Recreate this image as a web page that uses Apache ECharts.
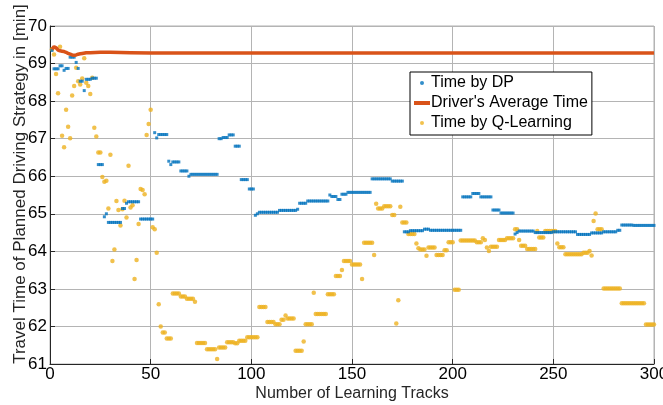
<!DOCTYPE html>
<html>
<head>
<meta charset="utf-8">
<script src="https://cdn.jsdelivr.net/npm/echarts@6/dist/echarts.min.js"></script>
<style>
html,body{margin:0;padding:0;background:#fff;}
#chart{width:663px;height:405px;}
</style>
</head>
<body>
<div id="chart"></div>
<script>
// Track numbers 1..300
const seriesNames = ["Time by DP", "Driver's Average Time", "Time by Q-Learning"];
const xTicks = [0, 50, 100, 150, 200, 250, 300];
const yTicks = [61, 62, 63, 64, 65, 66, 67, 68, 69, 70];

const dpTime = [
  69.35, 68.86, 68.86, 68.86, 68.94, 68.94, 68.82, 68.87, 68.87, 69.17,
  69.17, 69.17, 69.03, 68.87, 68.53, 68.53, 68.28, 68.58, 68.58, 68.58,
  68.61, 68.61, 68.61, 66.31, 66.31, 66.31, 64.92, 65.00, 64.77, 64.77,
  64.77, 64.77, 64.77, 64.77, 64.77, 65.14, 65.14, 65.28, 65.32, 65.32,
  65.32, 65.32, 65.32, 65.32, 64.86, 64.86, 64.86, 64.86, 64.86, 64.86,
  64.86, 67.16, 67.02, 67.11, 67.11, 67.11, 67.11, 67.11, 66.40, 66.31,
  66.38, 66.38, 66.38, 66.38, 66.14, 66.14, 66.14, 66.14, 66.00, 66.05,
  66.05, 66.05, 66.05, 66.05, 66.05, 66.05, 66.05, 66.05, 66.05, 66.05,
  66.05, 66.05, 66.05, 67.00, 67.00, 67.03, 67.03, 67.03, 67.10, 67.10,
  67.10, 66.80, 66.80, 66.80, 65.91, 65.91, 65.91, 65.91, 65.66, 65.66,
  65.66, 64.96, 65.00, 65.04, 65.04, 65.04, 65.04, 65.04, 65.04, 65.04,
  65.04, 65.04, 65.04, 65.09, 65.09, 65.09, 65.09, 65.09, 65.09, 65.09,
  65.09, 65.09, 65.12, 65.28, 65.28, 65.28, 65.28, 65.34, 65.34, 65.34,
  65.34, 65.34, 65.34, 65.34, 65.34, 65.34, 65.34, 65.34, 65.50, 65.46,
  65.46, 65.46, 65.38, 65.38, 65.52, 65.52, 65.52, 65.57, 65.57, 65.57,
  65.57, 65.57, 65.57, 65.57, 65.57, 65.57, 65.57, 65.57, 65.57, 65.93,
  65.93, 65.93, 65.93, 65.93, 65.93, 65.93, 65.93, 65.93, 65.93, 65.87,
  65.87, 65.87, 65.87, 65.87, 65.87, 64.52, 64.52, 64.52, 64.55, 64.55,
  64.55, 64.55, 64.55, 64.55, 64.55, 64.59, 64.59, 64.59, 64.56, 64.56,
  64.56, 64.56, 64.56, 64.56, 64.56, 64.56, 64.56, 64.56, 64.56, 64.56,
  64.56, 64.56, 64.56, 64.56, 65.45, 65.45, 65.45, 65.45, 65.45, 65.54,
  65.54, 65.54, 65.54, 65.45, 65.45, 65.45, 65.45, 65.45, 65.45, 65.10,
  65.10, 65.10, 65.10, 65.02, 65.02, 65.02, 65.02, 65.02, 65.02, 65.02,
  64.46, 64.50, 64.54, 64.54, 64.54, 64.54, 64.54, 64.54, 64.54, 64.54,
  64.50, 64.50, 64.50, 64.50, 64.50, 64.50, 64.50, 64.50, 64.50, 64.52,
  64.52, 64.52, 64.52, 64.52, 64.52, 64.52, 64.52, 64.52, 64.52, 64.52,
  64.52, 64.45, 64.45, 64.45, 64.45, 64.45, 64.45, 64.45, 64.49, 64.49,
  64.49, 64.49, 64.49, 64.49, 64.52, 64.52, 64.52, 64.52, 64.52, 64.52,
  64.52, 64.56, 64.56, 64.70, 64.70, 64.70, 64.70, 64.70, 64.70, 64.69,
  64.69, 64.69, 64.69, 64.69, 64.69, 64.69, 64.69, 64.69, 64.69, 64.69
];

const qlTime = [
  69.38, 69.24, 68.72, 68.21, 69.45, 67.08, 66.77, 67.77, 67.32, 67.01,
  68.15, 68.40, 68.89, 68.53, 68.44, 68.60, 69.14, 68.49, 68.40, 68.19,
  68.62, 67.29, 67.06, 66.63, 66.63, 65.98, 65.85, 65.88, 65.14, 66.57,
  63.74, 64.05, 65.34, 65.10, 64.69, 65.12, 65.35, 64.90, 66.28, 65.17,
  65.23, 63.26, 63.77, 64.73, 65.66, 65.63, 65.52, 67.10, 67.39, 67.77,
  64.64, 64.59, 63.96, 62.59, 62.00, 61.84, 61.84, 61.68, 61.68, 61.68,
  62.88, 62.88, 62.88, 62.88, 62.80, 62.80, 62.80, 62.74, 62.74, 62.74,
  62.74, 62.66, 61.56, 61.56, 61.56, 61.56, 61.56, 61.39, 61.39, 61.39,
  61.39, 61.39, 61.13, 61.44, 61.44, 61.44, 61.44, 61.58, 61.58, 61.58,
  61.58, 61.55, 61.55, 61.62, 61.62, 61.62, 61.62, 61.71, 61.71, 61.71,
  61.71, 61.71, 61.71, 62.52, 62.52, 62.52, 62.52, 62.12, 62.12, 62.12,
  62.12, 62.06, 62.06, 62.06, 62.18, 62.18, 62.29, 62.21, 62.21, 62.21,
  62.21, 61.35, 61.35, 61.35, 61.35, 61.60, 62.06, 62.06, 62.06, 62.06,
  62.90, 62.33, 62.33, 62.33, 62.33, 62.33, 62.33, 62.86, 62.86, 62.86,
  62.86, 63.34, 63.34, 63.34, 63.50, 63.74, 63.74, 63.74, 63.74, 63.65,
  63.65, 63.65, 63.65, 63.65, 63.26, 64.23, 64.23, 64.23, 64.23, 64.23,
  63.90, 65.27, 65.14, 65.14, 65.14, 65.20, 65.20, 65.20, 65.20, 64.97,
  64.97, 62.08, 62.70, 65.19, 64.77, 64.77, 64.77, 64.46, 64.46, 64.46,
  64.46, 64.21, 64.08, 64.05, 64.05, 64.05, 63.88, 64.10, 64.10, 64.10,
  64.10, 63.90, 63.90, 63.90, 63.90, 64.03, 64.03, 64.24, 64.24, 64.24,
  62.98, 62.98, 62.98, 64.29, 64.29, 64.29, 64.29, 64.29, 64.29, 64.29,
  64.29, 64.24, 64.24, 64.24, 64.35, 64.30, 64.10, 64.01, 64.12, 64.12,
  64.12, 64.12, 64.30, 64.30, 64.30, 64.30, 64.35, 64.35, 64.35, 64.35,
  64.59, 64.59, 64.30, 64.15, 64.15, 64.15, 64.06, 64.06, 64.06, 64.06,
  64.06, 64.54, 64.37, 64.37, 64.37, 64.54, 64.54, 64.54, 64.54, 64.54,
  64.54, 64.21, 64.11, 64.11, 64.11, 63.92, 63.92, 63.92, 63.92, 63.92,
  63.92, 63.92, 63.92, 63.92, 63.96, 63.96, 63.96, 64.01, 63.89, 64.81,
  65.01, 64.59, 64.59, 64.59, 63.01, 63.01, 63.01, 63.01, 63.01, 63.01,
  63.01, 63.01, 63.01, 62.62, 62.62, 62.62, 62.62, 62.62, 62.62, 62.62,
  62.62, 62.62, 62.62, 62.62, 62.62, 62.05, 62.05, 62.05, 62.05, 62.05
];

const driverX = [1, 2, 3, 4, 5, 6, 7, 8, 9, 10, 11, 12, 13, 14, 15, 16, 18, 20, 25, 30, 40, 50, 60, 70, 80, 90, 100, 120, 140, 160, 180, 200, 220, 240, 260, 280, 300];
const driverY = [69.38, 69.45, 69.42, 69.36, 69.34, 69.33, 69.32, 69.30, 69.27, 69.25, 69.23, 69.22, 69.23, 69.25, 69.26, 69.27, 69.29, 69.29, 69.30, 69.30, 69.29, 69.28, 69.28, 69.28, 69.28, 69.28, 69.28, 69.28, 69.28, 69.28, 69.28, 69.28, 69.28, 69.28, 69.28, 69.28, 69.28];

const dpData = dpTime.map((v, i) => [i + 1, v]);
const qlData = qlTime.map((v, i) => [i + 1, v]);
const drData = driverX.map((x, i) => [x, driverY[i]]);

const FONT = "'Liberation Sans', Arial, sans-serif";
const chart = echarts.init(document.getElementById('chart'), null, {renderer: 'canvas'});
chart.setOption({
  animation: false,
  backgroundColor: '#ffffff',
  textStyle: {fontFamily: FONT},
  grid: {left: 50, right: 9, top: 26, bottom: 41, show: true, borderColor: '#b0b0b0', borderWidth: 1,
         containLabel: false, outerBoundsMode: 'none'},
  legend: {
    orient: 'vertical',
    left: 410, top: 72,
    padding: [3, 4, 4, 4],
    itemGap: 4,
    itemWidth: 16,
    itemHeight: 4,
    backgroundColor: '#ffffff',
    borderColor: '#000000',
    borderWidth: 1,
    borderRadius: 0,
    textStyle: {fontFamily: FONT, fontSize: 16, color: '#000000', padding: [0, 0, 0, -4]},
    data: [
      {name: seriesNames[0], icon: 'circle'},
      {name: seriesNames[1], icon: 'rect', itemStyle: {color: '#D95319'}},
      {name: seriesNames[2], icon: 'circle'}
    ]
  },
  xAxis: {
    type: 'value',
    min: xTicks[0], max: xTicks[xTicks.length - 1], interval: 50,
    name: 'Number of Learning Tracks',
    nameLocation: 'middle', nameGap: 22, nameMoveOverlap: false,
    nameTextStyle: {fontFamily: FONT, fontSize: 16, color: '#262626'},
    axisLine: {show: true, lineStyle: {color: '#262626', width: 1}},
    axisTick: {show: true, inside: true, length: 5, lineStyle: {color: '#262626'}},
    axisLabel: {fontFamily: FONT, fontSize: 17, color: '#000000', margin: 2},
    splitLine: {show: true, lineStyle: {color: '#b4b4b4', width: 1}}
  },
  yAxis: {
    type: 'value',
    min: yTicks[0], max: yTicks[yTicks.length - 1], interval: 1,
    name: 'Travel Time of Planned Driving Strategy in [min]',
    nameLocation: 'middle', nameGap: 21, nameMoveOverlap: false,
    nameTextStyle: {fontFamily: FONT, fontSize: 17, color: '#262626', padding: [0, 0, 0, 22]},
    axisLine: {show: true, lineStyle: {color: '#262626', width: 1}},
    axisTick: {show: true, inside: true, length: 5, lineStyle: {color: '#262626'}},
    axisLabel: {fontFamily: FONT, fontSize: 17, color: '#000000', margin: 3},
    splitLine: {show: true, lineStyle: {color: '#b4b4b4', width: 1}}
  },
  series: [
    {
      name: seriesNames[0], type: 'scatter', data: dpData,
      symbol: 'rect', symbolSize: [3, 3],
      itemStyle: {color: '#0072BD'}, z: 3
    },
    {
      name: seriesNames[1], type: 'line', data: drData,
      symbol: 'none', smooth: false,
      lineStyle: {color: '#D95319', width: 3.5},
      itemStyle: {color: '#D95319'}, z: 4
    },
    {
      name: seriesNames[2], type: 'scatter', data: qlData,
      symbol: 'circle', symbolSize: 4.5,
      itemStyle: {color: '#EDB120'}, z: 2
    }
  ]
});
</script>
</body>
</html>
